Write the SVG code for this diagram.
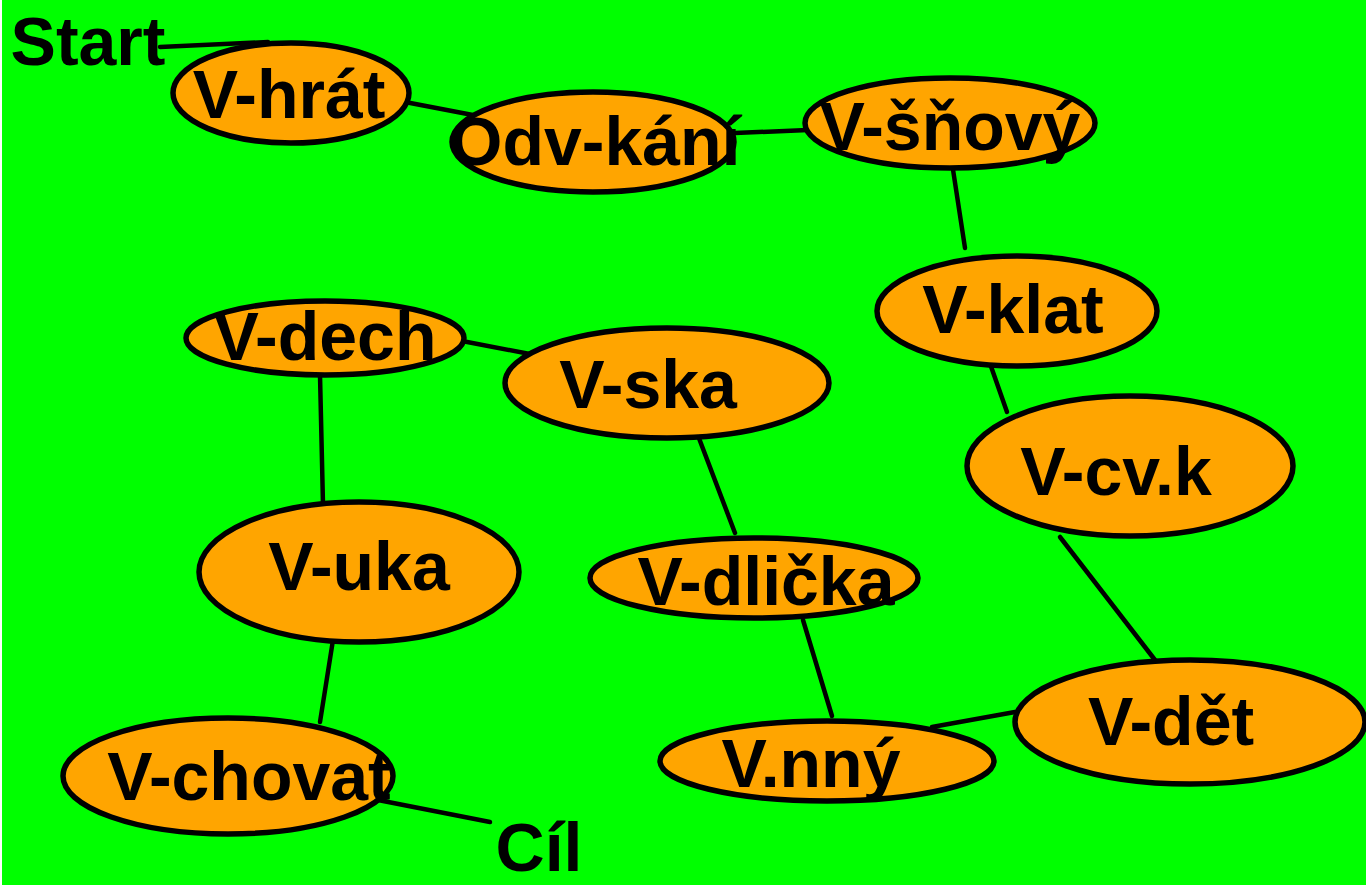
<svg xmlns="http://www.w3.org/2000/svg" width="1366" height="887" viewBox="0 0 1366 887">
<style>
.n ellipse{fill:#FFA500;stroke:#000;stroke-width:5.5}
text{font-family:"Liberation Sans",Arial,sans-serif;font-weight:bold;font-size:68px;fill:#000;text-anchor:middle}
.c line{stroke:#000;stroke-width:4.5;stroke-linecap:round}
</style>
<rect x="0" y="0" width="1366" height="887" fill="#fff"/>
<rect x="2" y="0" width="1364" height="885" fill="#00FF00"/>
<g class="c">
<line x1="160" y1="47" x2="268" y2="42"/>
<line x1="405" y1="102" x2="478" y2="116"/>
<line x1="735" y1="133" x2="808" y2="130"/>
<line x1="952" y1="163" x2="965" y2="248"/>
<line x1="987" y1="355" x2="1007" y2="412"/>
<line x1="1060" y1="537" x2="1155" y2="660"/>
<line x1="1015" y1="712" x2="932" y2="727"/>
<line x1="832" y1="716" x2="803" y2="620"/>
<line x1="735" y1="533" x2="697" y2="433"/>
<line x1="535" y1="355" x2="462" y2="341"/>
<line x1="320" y1="375" x2="323" y2="505"/>
<line x1="333" y1="640" x2="320" y2="722"/>
<line x1="378" y1="800" x2="490" y2="822"/>
</g>
<g id="start"><text x="88" y="65">Start</text></g>
<g id="v-hrat" class="n"><ellipse cx="291" cy="93" rx="118" ry="50"/><text x="289" y="118">V-hrát</text></g>
<g id="odv-kani" class="n"><ellipse cx="593" cy="142" rx="141" ry="50"/><text x="595" y="165">Odv-kání</text></g>
<g id="v-snovy" class="n"><ellipse cx="950" cy="123" rx="145" ry="45"/><text x="950" y="150">V-šňový</text></g>
<g id="v-klat" class="n"><ellipse cx="1017" cy="311" rx="140" ry="55"/><text x="1013" y="333">V-klat</text></g>
<g id="v-cvk" class="n"><ellipse cx="1130" cy="466" rx="163" ry="70"/><text x="1116" y="495">V-cv.k</text></g>
<g id="v-det" class="n"><ellipse cx="1190" cy="722" rx="175" ry="62"/><text x="1171" y="745">V-dět</text></g>
<g id="v-nny" class="n"><ellipse cx="827" cy="761" rx="167" ry="40"/><text x="811" y="787">V.nný</text></g>
<g id="v-dlicka" class="n"><ellipse cx="754" cy="578" rx="164" ry="40"/><text x="766" y="605">V-dlička</text></g>
<g id="v-ska" class="n"><ellipse cx="667" cy="383" rx="162" ry="55"/><text x="648" y="408">V-ska</text></g>
<g id="v-dech" class="n"><ellipse cx="325" cy="338" rx="139" ry="37"/><text x="325" y="360">V-dech</text></g>
<g id="v-uka" class="n"><ellipse cx="359" cy="572" rx="160" ry="70"/><text x="359" y="590">V-uka</text></g>
<g id="v-chovat" class="n"><ellipse cx="228" cy="776" rx="165" ry="58"/><text x="249" y="800">V-chovat</text></g>
<g id="cil"><text x="539" y="871">Cíl</text></g>
</svg>
